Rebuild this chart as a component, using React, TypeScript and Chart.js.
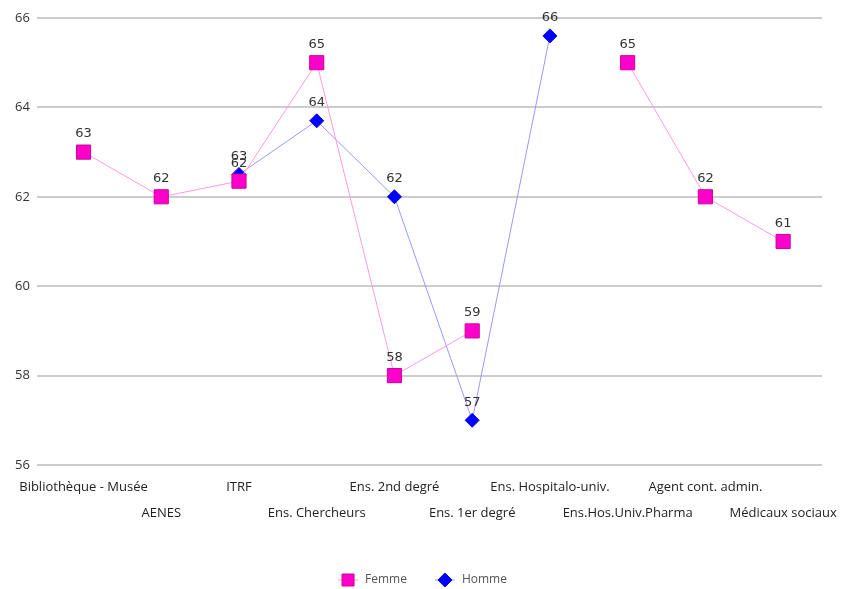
import React, { useEffect, useRef } from "react";
import { Chart, registerables } from "chart.js";

Chart.register(...registerables);

const categories = [
  "Bibliothèque - Musée",
  "AENES",
  "ITRF",
  "Ens. Chercheurs",
  "Ens. 2nd degré",
  "Ens. 1er degré",
  "Ens. Hospitalo-univ.",
  "Ens.Hos.Univ.Pharma",
  "Agent cont. admin.",
  "Médicaux sociaux",
];
const femme: (number | null)[] = [63, 62, 62.35, 65, 58, 59, null, 65, 62, 61];
const homme: (number | null)[] = [null, null, 62.5, 63.7, 62, 57, 65.6, null, null, null];
const yTicks = [56, 58, 60, 62, 64, 66];

const FONT = "'Open Sans', sans-serif";
const LABEL_FONT = "'DejaVu Sans', sans-serif";

const labelPlugin = {
  id: "valueLabels",
  afterDatasetsDraw(chart: any) {
    const ctx = chart.ctx;
    ctx.save();
    ctx.font = `13px ${LABEL_FONT}`;
    ctx.fillStyle = "#333";
    ctx.textAlign = "center";
    ctx.textBaseline = "middle";
    chart.data.datasets.forEach((ds: any, di: number) => {
      const meta = chart.getDatasetMeta(di);
      meta.data.forEach((pt: any, i: number) => {
        const v = ds.data[i].y;
        if (v === null || v === undefined) return;
        ctx.fillText(String(Math.round(v)), pt.x, pt.y - 18);
      });
    });
    ctx.restore();
  },
};

const legendPlugin = {
  id: "customLegend",
  afterDraw(chart: any) {
    const ctx = chart.ctx;
    ctx.save();
    ctx.font = `12px ${FONT}`;
    ctx.textBaseline = "middle";
    const items = chart.data.datasets.map((ds: any) => ({
      label: ds.label,
      line: ds.borderColor,
      fill: ds.pointBackgroundColor,
      border: ds.pointBorderColor,
      style: ds.pointStyle,
      w: ctx.measureText(ds.label).width,
    }));
    const marker = 20;
    const gap = 7;
    const between = 28;
    const total = items.reduce((s: number, it: any) => s + marker + gap + it.w, 0) + between * (items.length - 1);
    let x = chart.width / 2 - total / 2 - 1;
    const y = chart.height - 9;
    items.forEach((it: any) => {
      const cx = x + marker / 2;
      ctx.strokeStyle = it.line;
      ctx.lineWidth = 1;
      ctx.beginPath();
      ctx.moveTo(x, y);
      ctx.lineTo(x + marker, y);
      ctx.stroke();
      ctx.fillStyle = it.fill;
      ctx.strokeStyle = it.border;
      ctx.beginPath();
      if (it.style === "rect") {
        ctx.rect(cx - 6, y - 6, 12, 12);
      } else {
        ctx.moveTo(cx, y - 7);
        ctx.lineTo(cx + 7, y);
        ctx.lineTo(cx, y + 7);
        ctx.lineTo(cx - 7, y);
        ctx.closePath();
      }
      ctx.fill();
      ctx.stroke();
      ctx.fillStyle = "#555";
      ctx.textAlign = "left";
      ctx.fillText(it.label, x + marker + gap, y);
      x += marker + gap + it.w + between;
    });
    ctx.restore();
  },
};

export default function App() {
  const ref = useRef<HTMLCanvasElement>(null);
  useEffect(() => {
    document.body.style.margin = "0";
    const chart = new Chart(ref.current!, {
      type: "line",
      data: {
        datasets: [
          {
            label: "Femme",
            data: femme.map((v, i) => ({ x: i, y: v })),
            borderColor: "#ff99e6",
            borderWidth: 1,
            backgroundColor: "#ff00cc",
            pointBackgroundColor: "#ff00cc",
            pointBorderColor: "#cc0099",
            pointBorderWidth: 1,
            pointStyle: "rect",
            pointRadius: 10,
            spanGaps: false,
          },
          {
            label: "Homme",
            data: homme.map((v, i) => ({ x: i, y: v })),
            borderColor: "#9999ff",
            borderWidth: 1,
            backgroundColor: "#0000ff",
            pointBackgroundColor: "#0000ff",
            pointBorderColor: "#0000ff",
            pointBorderWidth: 1,
            pointStyle: "rectRot",
            pointRadius: 7,
            spanGaps: false,
          },
        ],
      },
      options: {
        animation: false,
        responsive: false,
        layout: { padding: { top: 18, right: 25, left: 8, bottom: 62 } },
        plugins: {
          legend: { display: false },
          tooltip: { enabled: false },
        },
        scales: {
          x: {
            type: "linear",
            min: -0.6,
            max: 9.5,
            afterBuildTicks: (scale: any) => {
              scale.ticks = categories.map((_, i) => ({ value: i }));
            },
            grid: { display: false },
            border: { display: false },
            ticks: {
              autoSkip: false,
              maxRotation: 0,
              minRotation: 0,
              padding: 1,
              color: "#222",
              font: { family: FONT, size: 13, lineHeight: "26px" },
              callback: (v: any) => {
                const i = Math.round(Number(v));
                const lab = categories[i] ?? "";
                return i % 2 === 0 ? [lab, ""] : ["", lab];
              },
            },
          },
          y: {
            min: 56,
            max: 66,
            afterBuildTicks: (scale: any) => {
              scale.ticks = yTicks.map((v) => ({ value: v }));
            },
            grid: { color: "#cccccc", lineWidth: 2, drawTicks: false },
            border: { display: false },
            ticks: {
              padding: 7,
              color: "#333",
              font: { family: FONT, size: 13 },
            },
          },
        },
      },
      plugins: [labelPlugin, legendPlugin],
    } as any);
    return () => chart.destroy();
  }, []);
  return (
    <div style={{ position: "absolute", left: 0, top: 0, width: 847, height: 589 }}>
      <canvas ref={ref} width={847} height={589} />
    </div>
  );
}
